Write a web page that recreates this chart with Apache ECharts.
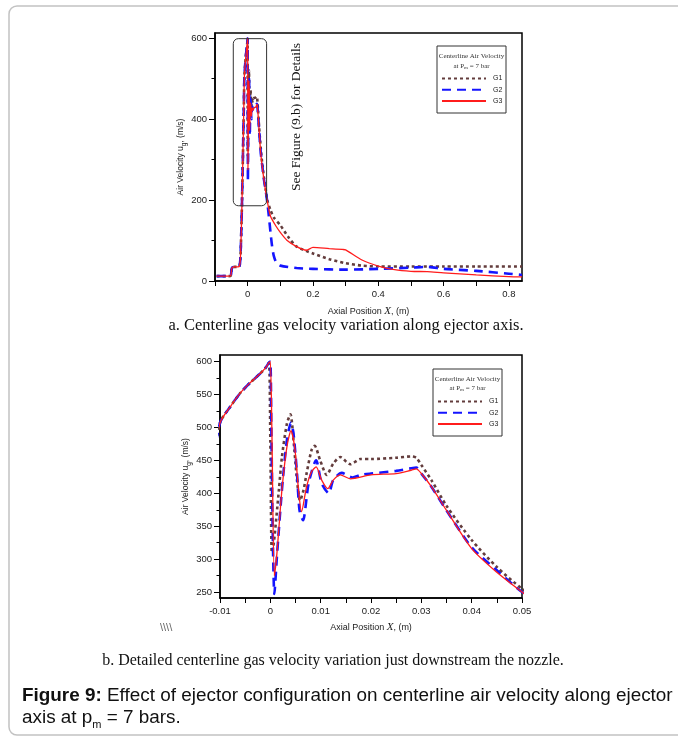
<!DOCTYPE html>
<html>
<head>
<meta charset="utf-8">
<script src="https://cdn.jsdelivr.net/npm/echarts@6/dist/echarts.min.js"></script>
<style>
  html, body { margin: 0; padding: 0; background: #fff; }
  #chart { width: 678px; height: 737px; }
</style>
</head>
<body>
<div id="chart"></div>
<script>
// axial position x (m), velocity (m/s)
const common = [
  [-0.095, 12], [-0.06, 12], [-0.052, 13], [-0.048, 33], [-0.04, 35], [-0.03, 35],
  [-0.025, 37], [-0.022, 60], [-0.018, 170], [-0.014, 330], [-0.012, 420],
  [-0.01, 507], [-0.008, 531], [-0.006, 552], [-0.004, 568], [-0.002, 582],
  [-0.001, 590], [-0.0003, 598]
];
const g1 = [
  [0, 480], [0.0003, 310], [0.0007, 325], [0.0017, 405], [0.0023, 455], [0.0033, 506],
  [0.004, 520], [0.0046, 481], [0.0053, 420], [0.0059, 389], [0.0066, 405],
  [0.0072, 430], [0.0082, 466], [0.0088, 472], [0.0099, 450], [0.0112, 428],
  [0.0125, 445], [0.0139, 455], [0.0159, 444], [0.0179, 452], [0.02, 452],
  [0.025, 454], [0.028, 456], [0.029, 454], [0.03, 443], [0.032, 420], [0.035, 381],
  [0.04, 329], [0.045, 288], [0.05, 255], [0.055, 228], [0.06, 200], [0.07, 175],
  [0.08, 157], [0.1, 138], [0.125, 108], [0.15, 85], [0.2, 68], [0.25, 54],
  [0.3, 44], [0.35, 38], [0.4, 36], [0.5, 36], [0.6, 36], [0.7, 36], [0.84, 36]
];
const g2 = [
  [0, 600], [0.0002, 500], [0.0005, 330], [0.0008, 247], [0.0013, 303], [0.0023, 405],
  [0.0033, 481], [0.0041, 507], [0.0046, 491], [0.0053, 430], [0.0058, 374],
  [0.0065, 359], [0.0076, 415], [0.0091, 450], [0.0102, 415], [0.0116, 400],
  [0.0125, 420], [0.0142, 431], [0.0163, 424], [0.018, 428], [0.02, 430],
  [0.025, 434], [0.028, 438], [0.029, 439], [0.03, 430], [0.032, 410], [0.035, 374],
  [0.04, 318], [0.045, 283], [0.05, 250], [0.055, 225], [0.06, 195], [0.065, 160],
  [0.07, 120], [0.075, 85], [0.08, 62], [0.088, 45], [0.1, 38], [0.15, 32],
  [0.2, 30], [0.3, 28], [0.4, 30], [0.5, 33], [0.55, 35], [0.6, 30], [0.7, 25],
  [0.8, 18], [0.84, 15]
];
const g3 = [
  [0, 600], [0.0003, 500], [0.0008, 275], [0.0013, 308], [0.0023, 405], [0.0033, 471],
  [0.0041, 495], [0.0049, 466], [0.0056, 405], [0.0062, 372], [0.0072, 410],
  [0.0082, 433], [0.0091, 440], [0.0102, 420], [0.0114, 407], [0.0125, 420],
  [0.0139, 428], [0.0159, 422], [0.02, 428], [0.025, 430], [0.028, 435],
  [0.029, 437], [0.03, 430], [0.032, 410], [0.035, 374], [0.04, 316], [0.045, 280],
  [0.05, 250], [0.055, 222], [0.06, 198], [0.07, 160], [0.088, 134], [0.1, 120],
  [0.12, 101], [0.15, 85], [0.18, 76], [0.2, 83], [0.25, 80], [0.29, 78],
  [0.3, 77], [0.35, 52], [0.4, 37], [0.45, 28], [0.5, 24], [0.55, 23], [0.6, 20],
  [0.7, 15], [0.8, 11], [0.84, 10]
];

// ticks
const xTicksA = [-0.1, 0, 0.1, 0.2, 0.3, 0.4, 0.5, 0.6, 0.7, 0.8];
const xLabelsA = [0, 0.2, 0.4, 0.6, 0.8];
const yMajorA = [0, 200, 400, 600];
const yMinorA = [100, 300, 500];
const xTicksB = [-0.01, -0.005, 0, 0.005, 0.01, 0.015, 0.02, 0.025, 0.03, 0.035, 0.04, 0.045, 0.05];
const xLabelsB = [-0.01, 0, 0.01, 0.02, 0.03, 0.04, 0.05];
const yMajorB = [250, 300, 350, 400, 450, 500, 550, 600];
const yMinorB = [275, 325, 375, 425, 475, 525, 575];

const names = ['G1', 'G2', 'G3'];
const colors = ['#633c3c', '#1414ff', '#ff1c1c'];
const lineStyles = [
  { width: 2.6, type: [3, 3] },
  { width: 2.6, type: [9, 6] },
  { width: 1.3, type: 'solid' }
];

const sans = 'Liberation Sans';
const serif = 'Liberation Serif';
const lbl = { fontFamily: sans, fontSize: 9.5, color: '#222' };

function xAxisOpt(grid, min, max, ticks, labels, gap) {
  return {
    type: 'value', gridIndex: grid, min: min, max: max, position: 'bottom',
    splitLine: { show: false },
    axisLine: { onZero: false, lineStyle: { color: '#000', width: 1.5 } },
    axisTick: { customValues: ticks, length: 5, lineStyle: { color: '#000' } },
    axisLabel: Object.assign({ customValues: labels, margin: 8, formatter: v => String(v) }, lbl),
    name: '{a|Axial Position }{i|X}{a|, (m)}',
    nameLocation: 'middle', nameGap: gap,
    nameTextStyle: {
      rich: {
        a: { fontFamily: sans, fontSize: 9, color: '#222' },
        i: { fontFamily: serif, fontStyle: 'italic', fontSize: 11, color: '#222' }
      }
    }
  };
}
function yAxisMain(grid, min, max, ticks) {
  return {
    type: 'value', gridIndex: grid, min: min, max: max, position: 'left',
    splitLine: { show: false },
    axisLine: { onZero: false, lineStyle: { color: '#000', width: 1.5 } },
    axisTick: { customValues: ticks, length: 6, lineStyle: { color: '#000' } },
    axisLabel: Object.assign({ customValues: ticks, margin: 8 }, lbl),
    name: '{a|Air Velocity u}{s|g}{a|, (m/s)}',
    nameLocation: 'middle', nameGap: 27, nameRotate: 90,
    nameTextStyle: {
      rich: {
        a: { fontFamily: sans, fontSize: 8.5, color: '#222', lineHeight: 14, verticalAlign: 'middle' },
        s: { fontFamily: sans, fontSize: 6.5, color: '#222', lineHeight: 14, verticalAlign: 'bottom' }
      }
    }
  };
}
function yAxisMinor(grid, min, max, ticks) {
  return {
    type: 'value', gridIndex: grid, min: min, max: max, position: 'left', offset: 0,
    splitLine: { show: false },
    axisLine: { show: false, onZero: false },
    axisTick: { customValues: ticks, length: 3.5, lineStyle: { color: '#000' } },
    axisLabel: { show: false }
  };
}

const series = [];
[g1, g2, g3].forEach((d, i) => {
  const pts = common.concat(d);
  [0, 1].forEach(k => {
    series.push({
      name: names[i], type: 'line', data: pts,
      xAxisIndex: k, yAxisIndex: k * 2,
      showSymbol: false, symbol: 'none', smooth: 0.25,
      clip: true,
      lineStyle: Object.assign({ color: colors[i] }, lineStyles[i]),
      itemStyle: { color: colors[i] },
      z: 2 + i
    });
  });
});

function legendOpt(left, top) {
  return {
    data: names, orient: 'vertical', left: left, top: top,
    itemWidth: 44, itemHeight: 8, itemGap: 4.2, padding: 0,
    itemStyle: { opacity: 0 },
    textStyle: { fontFamily: sans, fontSize: 7, color: '#222', padding: [0, 0, 0, 2] },
    selectedMode: false
  };
}

function legendTitle(cx, y1, y2) {
  return [
    { type: 'text', x: cx, y: y1, z: 10,
      style: { text: 'Centerline Air Velocity', fontFamily: serif, fontSize: 7, fill: '#333',
               align: 'center', verticalAlign: 'middle' } },
    { type: 'text', x: cx, y: y2, z: 10,
      style: { text: '{a|at P}{s|m}{a| = 7 bar}', fontFamily: serif, fontSize: 7, fill: '#333',
               align: 'center', verticalAlign: 'middle',
               rich: { a: { fontFamily: serif, fontSize: 7, fill: '#333', lineHeight: 9, verticalAlign: 'middle' },
                       s: { fontFamily: serif, fontSize: 5, fill: '#333', lineHeight: 9, verticalAlign: 'bottom' } } } }
  ];
}

const chart = echarts.init(document.getElementById('chart'), null, { renderer: 'canvas' });
const graphics = [
  { type: 'rect', shape: { x: 9, y: 6, width: 720, height: 729, r: 8 }, z: 0,
    style: { fill: 'none', stroke: '#c2c2c2', lineWidth: 1.5 } },
  { type: 'rect', shape: { x: 437, y: 46, width: 69, height: 67 }, z: 1,
    style: { fill: '#fff', stroke: '#333', lineWidth: 1 } },
  { type: 'rect', shape: { x: 433, y: 369, width: 69, height: 67 }, z: 1,
    style: { fill: '#fff', stroke: '#333', lineWidth: 1 } },
  ...legendTitle(471.5, 56.5, 66),
  ...legendTitle(467.5, 379.3, 388),
  { type: 'text', x: 296, y: 117, rotation: Math.PI / 2, z: 10,
    style: { text: 'See Figure (9.b) for Details', fontFamily: serif, fontSize: 13.5, fill: '#111',
             align: 'center', verticalAlign: 'middle' } },
  { type: 'text', x: 346, y: 326, z: 10,
    style: { text: 'a. Centerline gas velocity variation along ejector axis.', fontFamily: serif,
             fontSize: 16.5, fill: '#111', align: 'center', verticalAlign: 'middle' } },
  { type: 'text', x: 333, y: 661, z: 10,
    style: { text: 'b. Detailed centerline gas velocity variation just downstream the nozzle.', fontFamily: serif,
             fontSize: 16, fill: '#111', align: 'center', verticalAlign: 'middle' } },
  { type: 'text', x: 160, y: 628, z: 10,
    style: { text: '\\\\\\\\', fontFamily: sans, fontSize: 11, fill: '#666', verticalAlign: 'middle' } },
  { type: 'text', x: 22, y: 696, z: 10,
    style: { text: '{b|Figure 9:}{n| Effect of ejector configuration on centerline air velocity along ejector}',
             verticalAlign: 'middle',
             rich: { b: { fontFamily: sans, fontSize: 18.9, fontWeight: 'bold', fill: '#111' },
                     n: { fontFamily: sans, fontSize: 18.9, fill: '#111' } } } },
  { type: 'text', x: 22, y: 718, z: 10,
    style: { text: '{n|axis at p}{s|m}{n| = 7 bars.}', verticalAlign: 'middle',
             rich: { n: { fontFamily: sans, fontSize: 18.9, fill: '#111', lineHeight: 24, verticalAlign: 'middle' },
                     s: { fontFamily: sans, fontSize: 11, fill: '#111', lineHeight: 24, verticalAlign: 'bottom' } } } }
];

chart.setOption({
  animation: false,
  backgroundColor: '#fff',
  grid: [
    { left: 215, right: 156, top: 33, height: 248, show: true, borderColor: '#000', borderWidth: 1.5 },
    { left: 220, right: 156, top: 355, height: 243, show: true, borderColor: '#000', borderWidth: 1.5 }
  ],
  xAxis: [
    xAxisOpt(0, -0.1, 0.84, xTicksA, xLabelsA, 25),
    xAxisOpt(1, -0.01, 0.05, xTicksB, xLabelsB, 24)
  ],
  yAxis: [
    yAxisMain(0, 0, 613, yMajorA),
    yAxisMinor(0, 0, 613, yMinorA),
    yAxisMain(1, 241, 610, yMajorB),
    yAxisMinor(1, 241, 610, yMinorB)
  ],
  legend: [legendOpt(441, 75), legendOpt(437, 398)],
  graphic: graphics,
  series: series
});

// box around the detail region on the upper chart
const p1 = chart.convertToPixel({ gridIndex: 0 }, [-0.044, 599]);
const p2 = chart.convertToPixel({ gridIndex: 0 }, [0.058, 186]);
graphics.push({ type: 'rect', z: 10,
  shape: { x: p1[0], y: p1[1], width: p2[0] - p1[0], height: p2[1] - p1[1], r: 5 },
  style: { fill: 'none', stroke: '#333', lineWidth: 1 } });
chart.setOption({ graphic: graphics });
</script>
</body>
</html>
